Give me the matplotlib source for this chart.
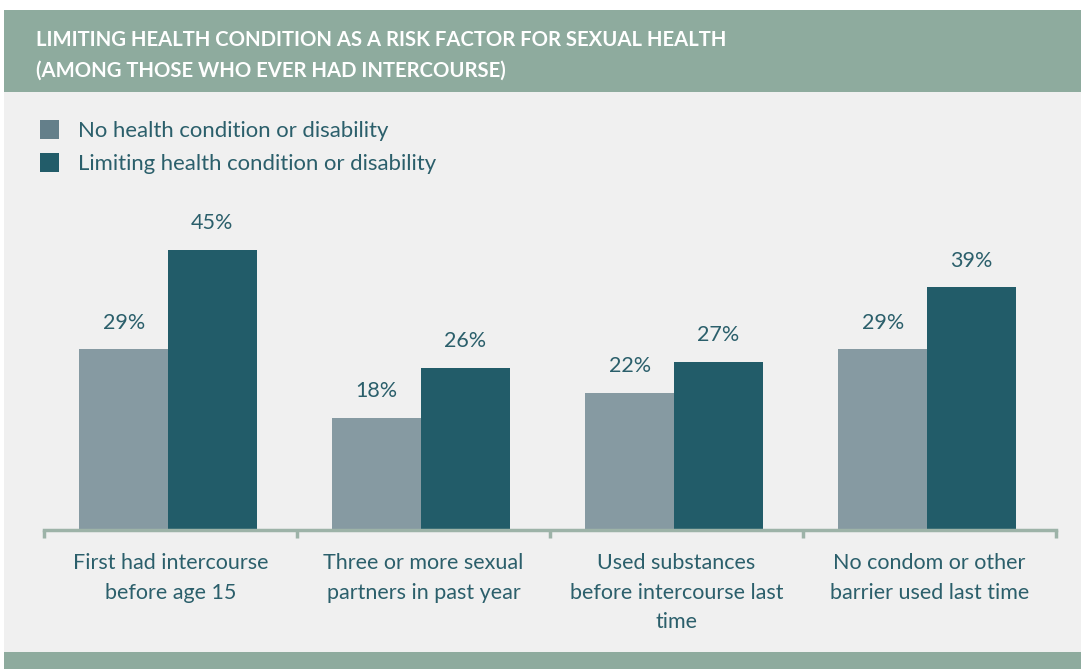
import matplotlib.pyplot as plt
from matplotlib.patches import Rectangle

categories = ['First had intercourse\nbefore age 15',
              'Three or more sexual\npartners in past year',
              'Used substances\nbefore intercourse last\ntime',
              'No condom or other\nbarrier used last time']
no_condition = [29, 18, 22, 29]
limiting = [45, 26, 27, 39]
series_names = ['No health condition or disability', 'Limiting health condition or disability']

c_light = '#869aa2'
c_legend_light = '#647f8a'
c_dark = '#225c69'
c_text = '#2b5f6b'
c_band = '#8eab9e'
c_bg = '#f0f0f0'
c_axis = '#9db3a8'

plt.rcParams['font.family'] = ['Lato', 'DejaVu Sans']

fig = plt.figure(figsize=(10.81, 6.69), dpi=100)
fig.patch.set_facecolor('white')
W, H = 1081, 669

def px(x0, y0, x1, y1, **kw):
    fig.patches.append(Rectangle((x0 / W, 1 - y1 / H), (x1 - x0) / W, (y1 - y0) / H,
                                 transform=fig.transFigure, zorder=-1, **kw))

px(4, 92, W, 652, facecolor=c_bg, edgecolor='none')
px(4, 10, W, 92, facecolor=c_band, edgecolor='none')
px(4, 652, W, H, facecolor=c_band, edgecolor='none')

fig.text(36 / W, 1 - 40 / H, 'LIMITING HEALTH CONDITION AS A RISK FACTOR FOR SEXUAL HEALTH',
         color='white', fontsize=14.6, fontweight='bold', va='center', ha='left')
fig.text(36 / W, 1 - 71 / H, '(AMONG THOSE WHO EVER HAD INTERCOURSE)',
         color='white', fontsize=14.6, fontweight='bold', va='center', ha='left')

# legend
for i, (name, col) in enumerate(zip(series_names, [c_legend_light, c_dark])):
    yc = 130 + i * 33
    px(40, yc - 10, 59, yc + 9, facecolor=col, edgecolor='none')
    fig.text(78 / W, 1 - (yc + 1) / H, name, color=c_text, fontsize=15.9, va='center', ha='left')

ax = fig.add_axes([44 / W, 1 - 530 / H, 1012 / W, 330 / H])
ax.set_facecolor('none')
x = [i - 0.01 for i in range(len(categories))]
w = 0.35
b1 = ax.bar([i - w / 2 for i in x], no_condition, w, color=c_light, zorder=2)
b2 = ax.bar([i + w / 2 for i in x], limiting, w, color=c_dark, zorder=2)
for bars, vals in [(b1, no_condition), (b2, limiting)]:
    for b, v in zip(bars, vals):
        ax.annotate(f'{v}%', (b.get_x() + b.get_width() / 2, v), xytext=(0, 12),
                    textcoords='offset points', ha='center', va='bottom',
                    color=c_text, fontsize=15.5)

ax.set_xlim(-0.5, len(categories) - 0.5)
ax.set_ylim(0, 53)
ax.set_yticks([])
for s in ['top', 'right', 'left']:
    ax.spines[s].set_visible(False)
ax.spines['bottom'].set_color(c_axis)
ax.spines['bottom'].set_linewidth(2.5)
ax.set_xticks([i - 0.5 for i in range(len(categories) + 1)])
ax.set_xticklabels([])
ax.tick_params(axis='x', length=6, width=2.5, color=c_axis)
for i, cat in enumerate(categories):
    ax.text(i, -0.07, cat, transform=ax.get_xaxis_transform(), ha='center', va='top',
            color=c_text, fontsize=15.5, linespacing=1.6)

fig.savefig('out.png', dpi=100, facecolor=fig.get_facecolor())
